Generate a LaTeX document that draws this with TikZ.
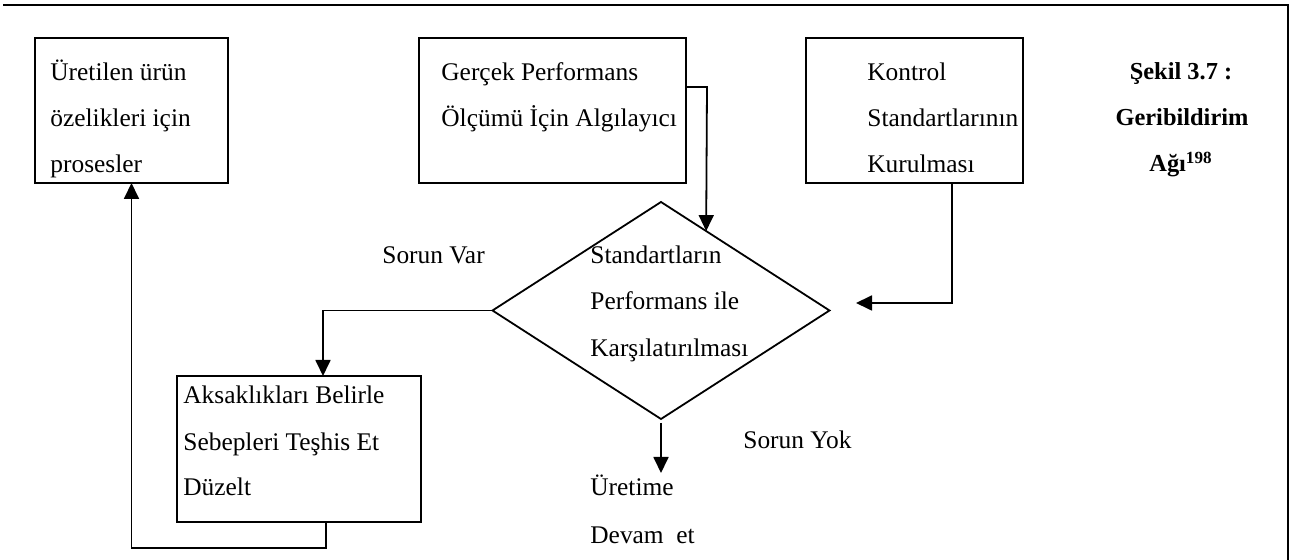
\documentclass[tikz,border=0pt]{standalone}
\usepackage{fontspec}
\setmainfont{Liberation Serif}
\usetikzlibrary{shapes.geometric,arrows.meta,calc}

\begin{document}
\begin{tikzpicture}[x=0.5pt,y=-0.5pt,
  boxnode/.style={draw,line width=0.9pt,inner sep=0pt,outer sep=0pt},
  txt/.style={anchor=base west,inner sep=0pt,font=\fontsize{12.7}{15}\selectfont},
  ttl/.style={anchor=base,inner sep=0pt,font=\fontsize{12.2}{15}\selectfont\bfseries},
  conn/.style={line width=0.9pt},
  arr/.style={conn,-{Triangle[length=8pt,width=7.5pt]}}]
\useasboundingbox (0,0) rectangle (1298,560);

% outer frame (top and right edges only)
\draw[line width=1.2pt] (3,5) -- (1288,5) -- (1288,560);

% boxes
\node[boxnode,minimum width=96.5pt,minimum height=72.5pt]  (b1) at (131.5,110.5) {};
\node[boxnode,minimum width=133.5pt,minimum height=72.5pt] (b2) at (552.5,110.5) {};
\node[boxnode,minimum width=108.5pt,minimum height=72.5pt] (b3) at (914.5,110.5) {};
\node[boxnode,minimum width=122pt,minimum height=73pt]     (b4) at (299,449) {};
\node[boxnode,shape=diamond,minimum width=168.5pt,minimum height=108.5pt] (dia) at (661,310.5) {};

% box texts
\node[txt] (b1a) at (50,81)  {Üretilen ürün};
\node[txt] (b1b) at (50,127) {özelikleri için};
\node[txt] (b1c) at (50,173) {prosesler};

\node[txt] (b2a) at (441,81)  {Gerçek Performans};
\node[txt] (b2b) at (441,127) {Ölçümü İçin Algılayıcı};

\node[txt] (b3a) at (867,81)  {Kontrol};
\node[txt] (b3b) at (867,127) {Standartlarının};
\node[txt] (b3c) at (867,173) {Kurulması};

\node[txt] (b4a) at (183,404) {Aksaklıkları Belirle};
\node[txt] (b4b) at (183,451) {Sebepleri Teşhis Et};
\node[txt] (b4c) at (183,496) {Düzelt};

\node[txt] (da) at (590,264) {Standartların};
\node[txt] (db) at (590,310) {Performans ile};
\node[txt] (dc) at (590,357) {Karşılatırılması};

\node[txt] (sv) at (382,264) {Sorun Var};
\node[txt] (sy) at (743,449) {Sorun Yok};

\node[txt] (u1) at (590,496) {Üretime};
\node[txt] (u2) at (590,544) {Devam\ \ et};

% figure caption
\node[ttl] (c1) at (1181,80)  {Şekil 3.7 :};
\node[ttl] (c2) at (1182,126) {Geribildirim};
\node[ttl] (c3) at (1181,172) {Ağı\textsuperscript{198}};

% connectors
\coordinate (k1) at (707,87);
\draw[arr] (b2.east |- k1) -- (k1) -- ($(dia.north)!0.268!(dia.east)$);

\coordinate (k2) at (952,303);
\coordinate (k3) at (856,303);
\draw[arr] (b3.south -| k2) -- (k2) -- (k3);

\draw[arr] (dia.west) -| ([xshift=12pt]b4.north);

\draw[arr] ([xshift=13.5pt]b4.south) -- ++(0,-13pt) -| (b1.south);

\coordinate (k5) at (661,473);
\draw[arr] ([yshift=-2pt]dia.south) -- (k5);
\end{tikzpicture}
\end{document}
